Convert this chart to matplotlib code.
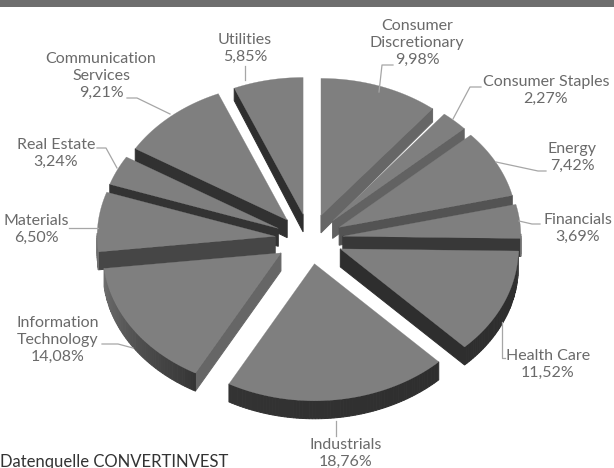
import numpy as np
import matplotlib
matplotlib.use("Agg")
import matplotlib.pyplot as plt
from matplotlib.patches import Polygon, Rectangle

sectors = ["Consumer\nDiscretionary", "Consumer Staples", "Energy", "Financials", "Health Care",
           "Industrials", "Information\nTechnology", "Materials", "Real Estate",
           "Communication\nServices", "Utilities"]
weights = [9.98, 2.27, 7.42, 3.69, 11.52, 18.76, 14.08, 6.50, 3.24, 9.21, 5.85]
label_pos = [(417, 43), (546, 90), (572, 157), (578, 228), (548, 364),
             (346, 453), (58, 340), (36, 229), (56, 153), (101, 76), (245, 48)]
leaders = [[(393, 65), (382, 65), (379, 92)], [(481, 87), (470, 87), (453, 119)],
           [(546, 171), (538, 171), (496, 162)], [(540, 224), (532, 224), (519, 221)],
           [(505, 358), (501.5, 358), (501.5, 322)], [(336, 421), (336, 436)],
           [(102, 344), (118, 344), (133, 348)], [(69, 228), (98, 228)],
           [(97, 148), (106, 148), (117, 168)], [(127, 98), (137, 98), (170, 114)],
           [(245, 66), (245, 80)]]

CX, CY, RX, RY = 310, 239, 178, 137
EX_R, EX_L, EY = 33, 35, 25
TOP = "#7f7f7f"
FONT = "Lato"

fig = plt.figure(figsize=(6.14, 4.68), dpi=100)
ax = fig.add_axes([0, 0, 1, 1])
ax.set_xlim(0, 614)
ax.set_ylim(468, 0)
ax.axis("off")

def depth(y):
    return float(np.interp(y, [77, 230], [12, 18]))

def radial_shade(direction):
    d = direction % 360
    return str(float(np.interp(d, [118, 130, 166, 174, 181, 199, 225, 360],
                               [.40, .40, .33, .27, .22, .20, .18, .18])))

def rim_shade(t):
    return str(float(np.interp(t % 360, [0, 90, 95, 100, 135, 208, 215, 263, 290, 360],
                               [.45, .45, .27, .18, .18, .20, .24, .43, .45, .45])))

fr = np.array(weights) / sum(weights)
edges = np.concatenate([[0], np.cumsum(fr) * 360])
order = np.argsort([-np.cos(np.radians((a + b) / 2)) for a, b in zip(edges[:-1], edges[1:])])

def pt(x0, y0, t):
    r = np.radians(t)
    return x0 + RX * np.sin(r), y0 - RY * np.cos(r)

z = 2.0
def add(points, color, lw=.7):
    global z
    z += .001
    ax.add_patch(Polygon(points, fc=color, ec=color, lw=lw, zorder=z))

for i in order:
    a, b = edges[i], edges[i + 1]
    m = np.radians((a + b) / 2)
    ex = EX_R if np.sin(m) > 0 else EX_L
    x0, y0 = CX + ex * np.sin(m), CY - EY * np.cos(m)
    for t, nd in ((a, a - 90), (b, b + 90)):
        if np.cos(np.radians(nd)) < 0:
            px, py = pt(x0, y0, t)
            add([(x0, y0), (px, py), (px, py + depth(py)), (x0, y0 + depth(y0))], radial_shade(nd))
    ts = np.linspace(a, b, max(int(b - a) + 2, 3))
    for t0, t1 in zip(ts[:-1], ts[1:]):
        if np.cos(np.radians((t0 + t1) / 2)) < 0.02:
            p0, p1 = pt(x0, y0, t0), pt(x0, y0, t1)
            add([p0, p1, (p1[0], p1[1] + depth(p1[1])), (p0[0], p0[1] + depth(p0[1]))],
                rim_shade((t0 + t1) / 2))
    arc = np.array([pt(x0, y0, t) for t in np.linspace(a, b, 60)])
    add(np.vstack([[x0, y0], arc]), TOP, .2)

ax.add_patch(Rectangle((0, 0), 614, 7, fc="#6e6e6e", ec="none", zorder=5))

for name, w, (lx, ly), seg in zip(sectors, weights, label_pos, leaders):
    ax.text(lx, ly, f"{name}\n{w:.2f}%".replace(".", ","), ha="center", va="center",
            fontsize=11.5, family=FONT, color="#6a6a6a", linespacing=1.27, zorder=7)
    xs, ys = zip(*seg)
    ax.plot(xs, ys, color="#a6a6a6", lw=.9, zorder=6)

ax.text(0, 462, "Datenquelle CONVERTINVEST", ha="left", va="center", fontsize=12,
        family=FONT, color="#333333", zorder=7)

fig.savefig("out.png", dpi=100)
